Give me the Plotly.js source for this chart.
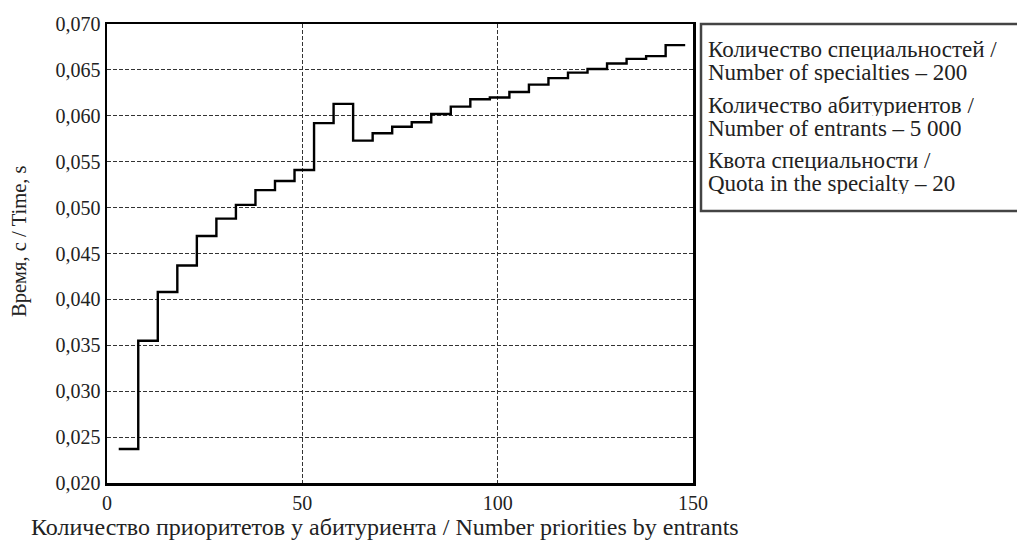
<!DOCTYPE html>
<html>
<head>
<meta charset="utf-8">
<script src="https://cdn.plot.ly/plotly-3.0.1.min.js"></script>
<style>html,body{margin:0;padding:0;background:#fff;}#chart{width:1017px;height:541px;}</style>
</head>
<body>
<div id="chart"></div>
<script>
// Step positions (number of priorities) and measured time, s
const priorities = [3, 8, 13, 18, 23, 28, 33, 38, 43, 48, 53, 58, 63, 68, 73, 78, 83, 88, 93, 98, 103, 108, 113, 118, 123, 128, 133, 138, 143, 148];
const timeSec = [0.0237, 0.0355, 0.0408, 0.0437, 0.0469, 0.0488, 0.0503, 0.0519, 0.0529, 0.0541,
                 0.0592, 0.0613, 0.0573, 0.0581, 0.0588, 0.0593, 0.0602, 0.0610, 0.0618, 0.0620,
                 0.0626, 0.0634, 0.0641, 0.0647, 0.0651, 0.0657, 0.0662, 0.0665, 0.0677, 0.0677];
const xTicks = [0, 50, 100, 150];
const yTicks = [0.020, 0.025, 0.030, 0.035, 0.040, 0.045, 0.050, 0.055, 0.060, 0.065, 0.070];
const xTitle = "Количество приоритетов у абитуриента / Number priorities by entrants";
const yTitle = "Время, с / Time, s";
const infoLines = [
  "Количество специальностей /", "Number of specialties – 200",
  "Количество абитуриентов /", "Number of entrants – 5 000",
  "Квота специальности /", "Quota in the specialty – 20"
];

const font = "Liberation Serif, Times New Roman, serif";
const W = 1017, H = 541;
const m = {l: 107, r: 324, t: 24, b: 58};
const pw = W - m.l - m.r, ph = H - m.t - m.b;
const px2x = p => (p - m.l) / pw;
const py2y = p => (H - m.b - p) / ph;

const trace = {
  x: priorities, y: timeSec, type: 'scatter', mode: 'lines',
  line: {shape: 'hv', color: '#000', width: 2.4}, hoverinfo: 'skip'
};

const annotations = [
  {text: xTitle, xref: 'paper', yref: 'paper', x: px2x(385), y: py2y(527), xanchor: 'center', yanchor: 'middle',
   showarrow: false, font: {family: font, size: 24, color: '#222'}},
  {text: yTitle, xref: 'paper', yref: 'paper', x: px2x(19), y: py2y(241), xanchor: 'center', yanchor: 'middle',
   textangle: -90, showarrow: false, font: {family: font, size: 20.5, color: '#222'}}
];
const lineY = [49.5, 72.5, 105.5, 128.5, 160.5, 183.5];
infoLines.forEach((t, i) => {
  annotations.push({text: t, xref: 'paper', yref: 'paper', x: px2x(707), y: py2y(lineY[i]),
    xanchor: 'left', yanchor: 'middle', height: 21, borderpad: 0, valign: 'middle', align: 'left',
    showarrow: false, font: {family: font, size: 23, color: '#222'}});
});

const layout = {
  width: W, height: H, margin: m, paper_bgcolor: '#fff', plot_bgcolor: '#fff',
  separators: ', ', showlegend: false,
  font: {family: font, size: 20, color: '#222'},
  xaxis: {range: [0, 150], tickvals: xTicks, ticktext: xTicks.map(String), showgrid: true,
    gridcolor: '#333', griddash: '4px,2px', gridwidth: 1, zeroline: false,
    showline: true, linecolor: '#000', linewidth: 2.5, mirror: true, ticks: '',
    tickfont: {family: font, size: 20, color: '#222'}},
  yaxis: {range: [0.020, 0.070], tickvals: yTicks, tickformat: '.3f', showgrid: true,
    gridcolor: '#333', griddash: '4px,2px', gridwidth: 1, zeroline: false,
    showline: true, linecolor: '#000', linewidth: 2.5, mirror: true, ticks: '',
    tickfont: {family: font, size: 20, color: '#222'}},
  annotations: annotations,
  shapes: [{type: 'rect', xref: 'paper', yref: 'paper', x0: px2x(701), x1: px2x(1030), y0: py2y(211), y1: py2y(24),
    line: {color: '#444', width: 2.5}, fillcolor: 'rgba(0,0,0,0)'}]
};

Plotly.newPlot('chart', [trace], layout, {staticPlot: true, displayModeBar: false});
</script>
</body>
</html>
